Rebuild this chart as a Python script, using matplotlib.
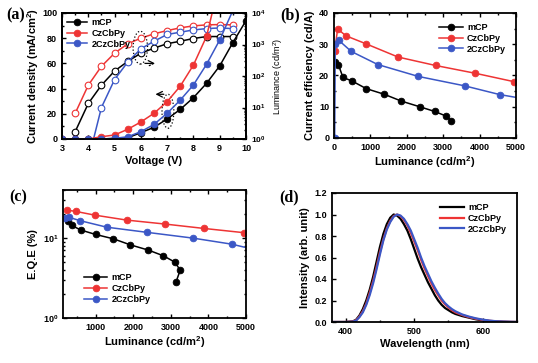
import matplotlib
matplotlib.use('Agg')
import matplotlib.pyplot as plt
from matplotlib.patches import Ellipse
from matplotlib.ticker import MultipleLocator, LogLocator, NullFormatter, FormatStrFormatter

plt.rcParams['font.family'] = ['Liberation Sans', 'DejaVu Sans']
plt.rcParams['font.weight'] = 'bold'
plt.rcParams['mathtext.default'] = 'regular'
plt.rcParams['axes.linewidth'] = 1.3

# ---------------- data ----------------
series_names = ['mCP', 'CzCbPy', '2CzCbPy']
colors = ['#000000', '#ee3434', '#3b57c6']

# (a) J-V-L
voltage = [3, 3.5, 4, 4.5, 5, 5.5, 6, 6.5, 7, 7.5, 8, 8.5, 9, 9.5, 10]
J_mCP = [0, 0, 0, 0, 0.5, 1, 5, 9.3, 15.9, 23.5, 32.8, 44.2, 58, 76.5, 93.9]
J_CzCbPy = [0, 0, 0, 1.8, 3.2, 7.7, 13.5, 20.4, 29.6, 42, 58.7, 81.5, 125]
J_2CzCbPy = [0, 0, 0, 0, 0.5, 1.8, 5.8, 11.6, 20.4, 30.9, 42.9, 59.3, 78.6, 102]
V_lum_mCP = [3.5, 4, 4.5, 5, 5.5, 6, 6.5, 7, 7.5, 8, 8.5, 9, 9.5]
L_mCP = [1.7, 13.4, 51, 144, 290, 530, 765, 1060, 1270, 1550, 1790, 1790, 1790]
V_lum_CzCbPy = [3.5, 4, 4.5, 5, 5.5, 6, 6.5, 7, 7.5, 8, 8.5, 9, 9.5]
L_CzCbPy = [6.5, 51, 203, 530, 1050, 1590, 2180, 2770, 3380, 3900, 4200, 4300, 4200]
V_lum_2CzCbPy = [4.5, 5, 5.5, 6, 6.5, 7, 7.5, 8, 8.5, 9, 9.5]
L_2CzCbPy = [10, 77, 277, 730, 1270, 2080, 2460, 2900, 3200, 3350, 3200]
V_onset_2CzCbPy = [4.2, 4.5]
L_onset_2CzCbPy = [1.0, 10]

# (b) current efficiency
Lb_mCP = [18, 119, 246, 502, 885, 1378, 1852, 2354, 2765, 3084, 3220]
CE_mCP = [24.4, 23.5, 19.4, 18.2, 15.8, 14.0, 11.8, 10.0, 8.5, 7.0, 5.5]
Lb_CzCbPy = [18, 100, 328, 867, 1761, 2792, 3887, 4954]
CE_CzCbPy = [27.9, 34.9, 32.7, 30.2, 25.9, 23.2, 20.7, 18.0]
Lb_2CzCbPy = [18, 36, 137, 474, 1204, 2317, 3586, 4550, 5500]
CE_2CzCbPy = [0, 30, 31.2, 27.7, 23.5, 19.7, 16.7, 13.9, 12.0]

# (c) EQE
Lc_mCP = [253, 360, 609, 1000, 1471, 1916, 2404, 2804, 3107, 3249, 3142]
EQE_mCP = [16.3, 14.4, 12.6, 11.1, 9.8, 8.25, 7.07, 6.0, 5.0, 3.97, 2.86]
Lc_CzCbPy = [227, 467, 973, 1827, 2840, 3889, 4938]
EQE_CzCbPy = [22.4, 21.6, 19.4, 16.8, 15.0, 13.2, 11.7]
Lc_2CzCbPy = [181, 288, 591, 1293, 2369, 3587, 4618, 5500]
EQE_2CzCbPy = [17.8, 18.2, 16.5, 13.7, 11.8, 10.0, 8.4, 6.7]

# (d) EL spectra
wl = [380, 400, 410, 415, 420, 425, 430, 435, 440, 445, 450, 455, 460, 465, 470,
      475, 480, 485, 490, 495, 500, 505, 510, 515, 520, 525, 530, 535, 540, 545,
      550, 555, 560, 570, 580, 590, 600, 610, 620, 630, 640, 650]
I_mCP = [0, 0, 0.005, 0.02, 0.06, 0.12, 0.2, 0.3, 0.42, 0.56, 0.7, 0.82, 0.91, 0.97, 1.0,
         0.99, 0.96, 0.91, 0.85, 0.77, 0.68, 0.59, 0.51, 0.44, 0.37, 0.31, 0.25, 0.2, 0.16, 0.13,
         0.11, 0.09, 0.075, 0.055, 0.04, 0.025, 0.015, 0.008, 0.004, 0.001, 0, 0]
I_CzCbPy = [0, 0, 0.004, 0.015, 0.05, 0.1, 0.17, 0.27, 0.38, 0.51, 0.65, 0.77, 0.87, 0.94, 0.985,
            1.0, 0.985, 0.95, 0.9, 0.83, 0.75, 0.67, 0.58, 0.5, 0.43, 0.36, 0.3, 0.25, 0.2, 0.165,
            0.135, 0.11, 0.09, 0.065, 0.045, 0.03, 0.019, 0.011, 0.006, 0.003, 0.001, 0]
I_2CzCbPy = [0, 0, 0.003, 0.012, 0.045, 0.09, 0.16, 0.25, 0.36, 0.49, 0.63, 0.76, 0.86, 0.93, 0.98,
             1.0, 0.99, 0.96, 0.91, 0.85, 0.77, 0.69, 0.6, 0.52, 0.45, 0.38, 0.32, 0.265, 0.215, 0.175,
             0.145, 0.12, 0.1, 0.07, 0.05, 0.034, 0.022, 0.013, 0.007, 0.004, 0.002, 0]

# ---------------- figure ----------------
W, H = 538, 363
fig = plt.figure(figsize=(W / 100, H / 100), dpi=100)

def box(l, t, r, b):
    return [l / W, (H - b) / H, (r - l) / W, (b - t) / H]

TICK = 6.5
LAB = 8
MS = 4.8
LEG = 6.5

def style(ax, right=True, top=True):
    ax.tick_params(which='both', direction='in', labelsize=TICK, top=top, right=right, width=1)
    ax.tick_params(which='major', length=3)
    ax.tick_params(which='minor', length=1.6)
    for lab in ax.get_xticklabels() + ax.get_yticklabels():
        lab.set_fontweight('bold')

def fill_plot(ax, x, y, c, label=None):
    return ax.plot(x, y, '-o', color=c, lw=1.1, ms=MS, mfc=c, mec=c, mew=0.6, label=label)[0]

def open_plot(ax, x, y, c):
    return ax.plot(x, y, '-o', color=c, lw=1.1, ms=MS, mfc='white', mec=c, mew=0.8)[0]

# ---- (a)
ax = fig.add_axes(box(62, 13, 246, 139))
ax2 = ax.twinx()
Js = [J_mCP, J_CzCbPy, J_2CzCbPy]
handles = []
for J, c, n in zip(Js, colors, series_names):
    handles.append(fill_plot(ax, voltage[:len(J)], J, c, n))
for Vx, L, c in zip([V_lum_mCP, V_lum_CzCbPy, V_lum_2CzCbPy], [L_mCP, L_CzCbPy, L_2CzCbPy], colors):
    open_plot(ax2, Vx, L, c)
ax2.plot(V_onset_2CzCbPy, L_onset_2CzCbPy, '-', color=colors[2], lw=1.1, zorder=1)
ax.set_xlim(3, 10)
ax.set_ylim(0, 100)
ax2.set_yscale('log')
ax2.set_ylim(1, 1e4)
ax.xaxis.set_major_locator(MultipleLocator(1))
ax.xaxis.set_minor_locator(MultipleLocator(0.5))
ax.yaxis.set_major_locator(MultipleLocator(20))
ax.yaxis.set_minor_locator(MultipleLocator(10))
style(ax, right=False)
ax2.tick_params(which='both', direction='in', labelsize=TICK - 0.5, width=1)
ax2.tick_params(which='major', length=3)
ax2.tick_params(which='minor', length=1.6)
ax2.yaxis.set_minor_locator(LogLocator(base=10, subs=range(2, 10)))
ax2.yaxis.set_minor_formatter(NullFormatter())
ax.set_xlabel('Voltage (V)', fontsize=LAB, fontweight='bold', labelpad=2)
ax.set_ylabel('Current density (mA/cm$^2$)', fontsize=LAB, fontweight='bold', labelpad=1)
ax2.set_ylabel('Luminance (cd/m$^2$)', fontsize=6.5, fontweight='normal', labelpad=4)
ax.legend(handles=handles, loc='upper left', frameon=False, fontsize=LEG, handlelength=2.2,
          borderaxespad=0.15, labelspacing=0.2, handletextpad=0.5)
el1 = Ellipse((5.98, 72.5), 0.55, 26, fill=False, ls=':', lw=0.9, ec='k')
ax.add_patch(el1)
ax.annotate('', xy=(6.65, 60), xytext=(6.05, 60),
            arrowprops=dict(arrowstyle='->', lw=0.9, ls='-.', color='k'))
el2 = Ellipse((7.03, 22), 0.45, 27, fill=False, ls=':', lw=0.9, ec='k')
ax.add_patch(el2)
ax.annotate('', xy=(6.45, 35.5), xytext=(6.98, 35.5),
            arrowprops=dict(arrowstyle='->', lw=0.9, color='k'))
ax.set_zorder(ax2.get_zorder() + 1)
ax.patch.set_visible(False)
fig.text(16 / W, 1 - 15 / H, '(a)', family='Liberation Serif', fontweight='bold', fontsize=11.5,
         ha='center', va='center')

# ---- (b)
bx = fig.add_axes(box(334, 13, 516, 138))
for x, y, c, n in zip([Lb_mCP, Lb_CzCbPy, Lb_2CzCbPy], [CE_mCP, CE_CzCbPy, CE_2CzCbPy], colors, series_names):
    fill_plot(bx, x, y, c, n)
bx.set_xlim(0, 5000)
bx.set_ylim(0, 40)
bx.xaxis.set_major_locator(MultipleLocator(1000))
bx.xaxis.set_minor_locator(MultipleLocator(500))
bx.yaxis.set_major_locator(MultipleLocator(10))
bx.yaxis.set_minor_locator(MultipleLocator(5))
style(bx)
bx.set_xlabel('Luminance (cd/m$^2$)', fontsize=LAB, fontweight='bold', labelpad=2)
bx.set_ylabel('Current efficiency (cd/A)', fontsize=LAB, fontweight='bold', labelpad=3)
bx.legend(loc='upper right', frameon=False, fontsize=LEG, handlelength=2.6,
          borderaxespad=0.7, labelspacing=0.2, handletextpad=0.5)
fig.text(290 / W, 1 - 15 / H, '(b)', family='Liberation Serif', fontweight='bold', fontsize=11.5,
         ha='center', va='center')

# ---- (c)
cx = fig.add_axes(box(63, 190, 246, 318))
for x, y, c, n in zip([Lc_mCP, Lc_CzCbPy, Lc_2CzCbPy], [EQE_mCP, EQE_CzCbPy, EQE_2CzCbPy], colors, series_names):
    fill_plot(cx, x, y, c, n)
cx.set_yscale('log')
cx.set_xlim(130, 5000)
cx.set_ylim(1, 40)
cx.xaxis.set_major_locator(MultipleLocator(1000))
cx.xaxis.set_minor_locator(MultipleLocator(500))
cx.yaxis.set_minor_locator(LogLocator(base=10, subs=range(2, 10)))
cx.yaxis.set_minor_formatter(NullFormatter())
style(cx)
cx.set_xlabel('Luminance (cd/m$^2$)', fontsize=LAB, fontweight='bold', labelpad=2)
cx.set_ylabel('E.Q.E (%)', fontsize=LAB, fontweight='bold', labelpad=3)
cx.legend(loc='lower left', frameon=False, fontsize=LEG, handlelength=2.6,
          borderaxespad=0.9, labelspacing=0.2, handletextpad=0.5, bbox_to_anchor=(0.05, 0.02))
fig.text(18 / W, 1 - 197 / H, '(c)', family='Liberation Serif', fontweight='bold', fontsize=11.5,
         ha='center', va='center')

# ---- (d)
dx = fig.add_axes(box(332, 193, 517, 322))
for y, c, n in zip([I_mCP, I_CzCbPy, I_2CzCbPy], colors, series_names):
    dx.plot(wl, y, '-', color=c, lw=1.6, label=n)
dx.set_xlim(380, 650)
dx.set_ylim(0, 1.2)
dx.xaxis.set_major_locator(MultipleLocator(100))
dx.xaxis.set_minor_locator(MultipleLocator(50))
dx.yaxis.set_major_locator(MultipleLocator(0.2))
dx.yaxis.set_major_formatter(FormatStrFormatter('%.1f'))
style(dx, right=False, top=False)
dx.set_xlabel('Wavelength (nm)', fontsize=LAB, fontweight='bold', labelpad=2)
dx.set_ylabel('Intensity (arb. unit)', fontsize=LAB, fontweight='bold', labelpad=3)
dx.legend(loc='upper right', frameon=False, fontsize=LEG, handlelength=2.6,
          borderaxespad=0.7, labelspacing=0.2, handletextpad=0.5)
fig.text(289 / W, 1 - 197 / H, '(d)', family='Liberation Serif', fontweight='bold', fontsize=11.5,
         ha='center', va='center')

fig.savefig('out.png', dpi=100)
